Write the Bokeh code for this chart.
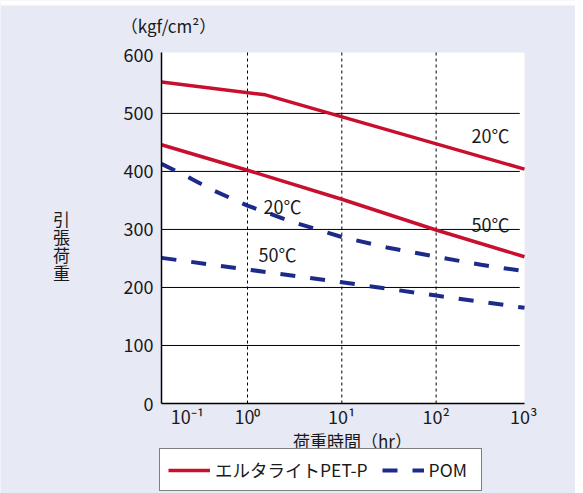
import math
from bokeh.plotting import figure
from bokeh.models import Range1d, FixedTicker, Label, Legend, LegendItem, BoxAnnotation
from bokeh.embed import file_html
from bokeh.resources import INLINE

# ---- data ----
pet20_x = [0.1225, 1.55, 865]
pet20_y = [554, 532, 404]
pet50_x = [0.1225, 1, 10, 100, 865]
pet50_y = [446, 402, 352, 299, 253]
pom20_x = [0.1225, 0.25, 0.44, 1, 3, 10, 30, 100, 300, 865]
pom20_y = [413, 388, 367, 341, 313, 287, 269, 253, 239, 228]
pom50_x = [0.1225, 1, 10, 100, 865]
pom50_y = [251, 231, 209, 186, 165]

y_ticks = [0, 100, 200, 300, 400, 500, 600]
y_grid = [100, 200, 300, 400, 500]
x_grid = [1, 10, 100]
x_ticks = [0.231, 1, 10, 100, 850]
x_tick_labels = ["10⁻¹", "10⁰", "10¹", "10²", "10³"]

# ---- layout / style ----
RED = "#C8102E"
BLUE = "#1C2A8A"
BG = "#E7E9F5"
FONT = "Noto Sans CJK JP"
TXT = "#1a1a1a"

W, H = 575, 493
PL, PR, PT, PB = 161, 524, 52, 403          # plot area in canvas pixels
X_LO, X_HI = 0.1225, 865                      # plot area data extent
Y_LO, Y_HI = 0, 605

ppl = (PR - PL) / (math.log10(X_HI) - math.log10(X_LO))
xr_lo = 10 ** (math.log10(X_LO) - PL / ppl)
xr_hi = 10 ** (math.log10(X_HI) + (W - PR) / ppl)
ppy = (PB - PT) / (Y_HI - Y_LO)
yr_lo = Y_LO - (H - PB) / ppy
yr_hi = Y_HI + PT / ppy

p = figure(width=W, height=H, x_axis_type="log", title=None,
           x_range=Range1d(xr_lo, xr_hi), y_range=Range1d(yr_lo, yr_hi),
           output_backend="svg", toolbar_location=None, min_border=0)
p.border_fill_color = BG
p.background_fill_color = BG
p.outline_line_color = None
p.xgrid.visible = False
p.ygrid.visible = False

# white strip at the very top, white plot area
p.add_layout(BoxAnnotation(bottom=H - 5, bottom_units="screen", fill_color="white",
                           fill_alpha=1, line_color=None, level="underlay"))
p.add_layout(BoxAnnotation(left=X_LO, right=X_HI, bottom=Y_LO, top=Y_HI, fill_color="white",
                           fill_alpha=1, line_color=None, level="underlay"))

# axes
for ax in (p.xaxis, p.yaxis):
    ax.axis_line_color = "black"
    ax.axis_line_width = 1.5
    ax.major_tick_line_color = None
    ax.minor_tick_line_color = None
    ax.major_label_text_font = FONT
    ax.major_label_text_font_size = "18px"
    ax.major_label_text_color = TXT

p.yaxis.fixed_location = X_LO
p.yaxis.bounds = (Y_LO, Y_HI)
p.yaxis.ticker = FixedTicker(ticks=y_ticks)
p.yaxis.major_label_standoff = 2

p.xaxis.fixed_location = Y_LO
p.xaxis.bounds = (X_LO, X_HI)
p.xaxis.ticker = FixedTicker(ticks=x_ticks)
p.xaxis.major_label_overrides = {t: l for t, l in zip(x_ticks, x_tick_labels)}
p.xaxis.major_label_standoff = -7

# grid lines
p.segment(x0=[X_LO] * len(y_grid), y0=y_grid, x1=[770] * len(y_grid), y1=y_grid,
          line_color="black", line_width=1)
p.segment(x0=x_grid, y0=[Y_LO] * len(x_grid), x1=x_grid, y1=[Y_HI] * len(x_grid),
          line_color="black", line_width=1, line_dash="3 3")

# lines
r_pet20 = p.line(pet20_x, pet20_y, line_color=RED, line_width=3.5)
r_pet50 = p.line(pet50_x, pet50_y, line_color=RED, line_width=3.5)
r_pom20 = p.line(pom20_x, pom20_y, line_color=BLUE, line_width=4, line_dash="15 15")
r_pom50 = p.line(pom50_x, pom50_y, line_color=BLUE, line_width=4, line_dash="15 15")

# inline labels
for x, y, t in [(378, 462, "20℃"), (378, 309, "50℃"), (2.35, 341, "20℃"), (2.08, 257, "50℃")]:
    p.add_layout(Label(x=x, y=y, text=t, text_align="center", text_baseline="middle",
                       text_font=FONT, text_font_size="18px", text_color=TXT))

# titles (screen units, origin at bottom-left of canvas)
def slabel(x, y, t):
    p.add_layout(Label(x=x, y=y, x_units="screen", y_units="screen", text=t,
                       text_align="center", text_baseline="middle",
                       text_font=FONT, text_font_size="17px", text_color=TXT))

slabel(168, H - 25, "（kgf/cm²）")
for i, ch in enumerate("引張荷重"):
    slabel(61, H - (218 + 18 * i), ch)
slabel(352, H - 440, "荷重時間（hr）")

legend = Legend(items=[LegendItem(label="エルタライトPET-P", renderers=[r_pet20]),
                       LegendItem(label="POM", renderers=[r_pom20])],
                location=(159, 2), orientation="horizontal")
legend.border_line_color = "black"
legend.border_line_width = 1
legend.background_fill_color = "white"
legend.background_fill_alpha = 1
legend.glyph_width = 42
legend.label_standoff = 5
legend.label_width = 44
legend.spacing = 14
legend.padding = 8
legend.margin = 0
legend.label_text_font = FONT
legend.label_text_font_size = "17.5px"
legend.label_text_color = TXT
p.add_layout(legend)

open("out.html", "w").write(file_html(p, INLINE))
